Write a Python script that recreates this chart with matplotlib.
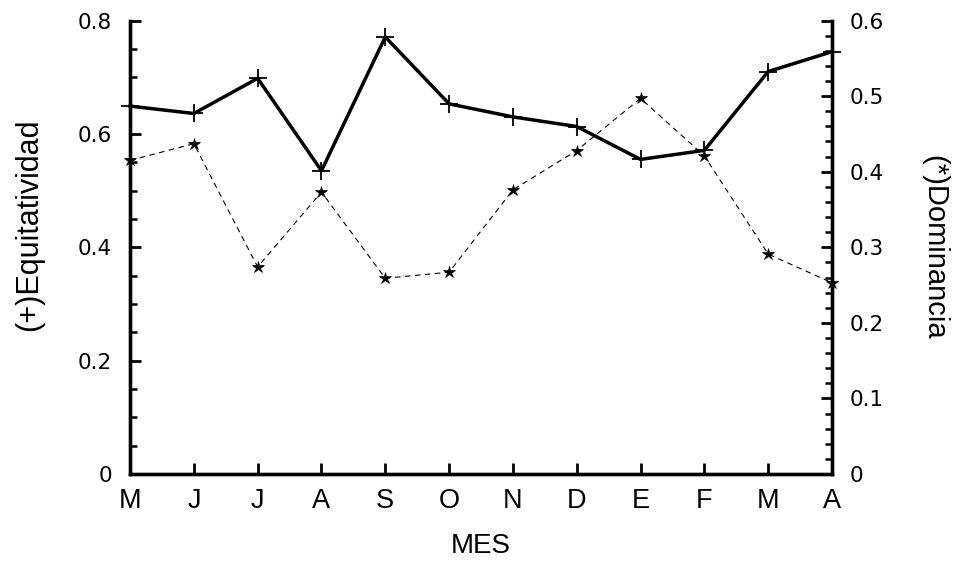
import matplotlib.pyplot as plt
from matplotlib.ticker import MultipleLocator

plt.rcParams['font.family'] = ['Liberation Sans', 'DejaVu Sans']

# meses (mayo a abril)
meses = ["M", "J", "J", "A", "S", "O", "N", "D", "E", "F", "M", "A"]
equitatividad = [0.649, 0.636, 0.698, 0.535, 0.771, 0.653, 0.630, 0.613,
                 0.555, 0.571, 0.710, 0.745]
dominancia = [0.415, 0.437, 0.274, 0.373, 0.259, 0.267, 0.376, 0.428,
              0.497, 0.421, 0.291, 0.253]

x = list(range(len(meses)))

fig = plt.figure(figsize=(9.54, 5.67), dpi=100)
ax = fig.add_axes([0.1363, 0.164, 0.7358, 0.7998])
ax2 = ax.twinx()

ax.plot(x, equitatividad, color="black", linewidth=2.5, marker="+",
        markersize=13, markeredgewidth=1.3, clip_on=False, zorder=3)
ax2.plot(x, dominancia, color="black", linewidth=0.8, dashes=(5, 4),
         marker="*", markersize=9, markeredgewidth=0.5, clip_on=False, zorder=3)

ax.set_xlim(0, 11)
ax.set_ylim(0, 0.8)
ax2.set_ylim(0, 0.6)

ax.set_xticks(x)
ax.set_xticklabels(meses)
ax.yaxis.set_major_locator(MultipleLocator(0.2))
ax.yaxis.set_minor_locator(MultipleLocator(0.05))
ax2.yaxis.set_major_locator(MultipleLocator(0.1))
ax2.yaxis.set_minor_locator(MultipleLocator(0.02))

ax.yaxis.set_major_formatter(lambda v, p: "0" if v == 0 else f"{v:.1f}")
ax2.yaxis.set_major_formatter(lambda v, p: "0" if v == 0 else f"{v:.1f}")

for a in (ax, ax2):
    a.spines["top"].set_visible(False)
    for s in ("left", "right", "bottom"):
        a.spines[s].set_linewidth(2.4)
    a.tick_params(which="major", direction="in", length=8, width=2, pad=13)
    a.tick_params(which="minor", direction="in", length=5, width=1.8)
    for lab in a.get_yticklabels():
        lab.set_family("DejaVu Sans")
        lab.set_fontsize(15.5)

ax.tick_params(axis="x", labelsize=19.5, pad=10)
ax.set_xlabel("MES", fontsize=20, labelpad=14)
ax.set_ylabel("(+)Equitatividad", fontsize=22)
ax2.set_ylabel("(*)Dominancia", fontsize=21, rotation=270, va="center")
ax.yaxis.set_label_coords(-0.123, 0.549)
ax2.yaxis.set_label_coords(1.146, 0.50)

plt.savefig("out.png", dpi=100)
